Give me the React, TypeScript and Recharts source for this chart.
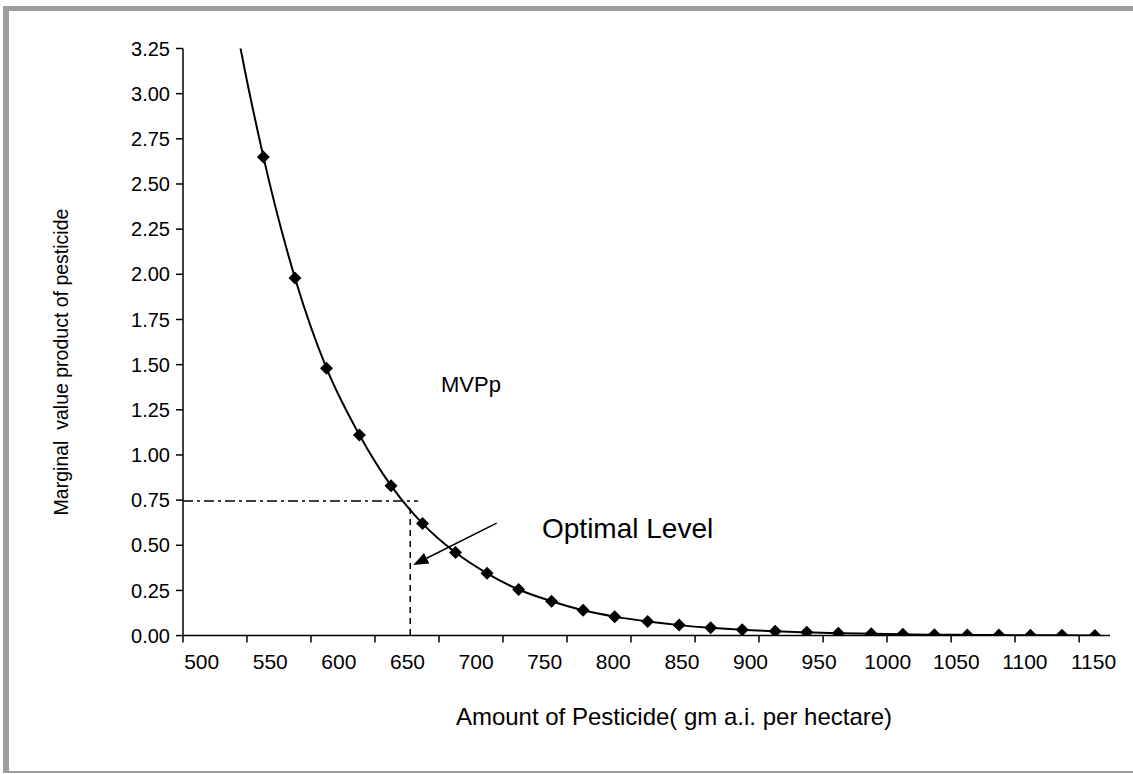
import React from "react"
import { LineChart, Line, XAxis, YAxis, ReferenceLine, Customized } from "recharts"

// pesticide amount (gm a.i. per hectare)
const amounts = [
    498, 521, 545, 568, 591, 615, 638, 661, 685, 708, 731, 755, 778, 801, 825,
    848, 871, 894, 918, 941, 964, 988, 1011, 1034, 1058, 1081, 1104, 1127, 1151,
]

// marginal value product of pesticide (first two run off the top of the chart)
const mvp = [
    4.77, 3.56, 2.65, 1.98, 1.48, 1.11, 0.83, 0.62, 0.46, 0.345, 0.255, 0.19, 0.14,
    0.105, 0.078, 0.058, 0.043, 0.032, 0.024, 0.018, 0.013, 0.01, 0.007, 0.005,
    0.004, 0.003, 0.002, 0.002, 0.001,
]

const xLabels = [500, 550, 600, 650, 700, 750, 800, 850, 900, 950, 1000, 1050, 1100, 1150]
const yTicks = [0, 0.25, 0.5, 0.75, 1, 1.25, 1.5, 1.75, 2, 2.25, 2.5, 2.75, 3, 3.25]
// the axis tick marks sit between the labels, not under them
const tickMarks = [
    486.4, 533.0, 579.7, 626.3, 673.0, 719.6, 766.3, 812.9, 859.6, 906.2, 952.9,
    999.5, 1046.2, 1092.8, 1139.5,
]

const xDomain = [486.4, 1162]
const optimal = { x: 652, y: 0.745, lineEnd: 657.6, dropTop: 0.707 }
const arrow = { from: { x: 715, y: 0.6225 }, to: { x: 654.2, y: 0.391 } }

const data = amounts.map((x, i) => ({ x, mvp: mvp[i] }))
const allXTicks = [...tickMarks, ...xLabels].sort((a, b) => a - b)

const font = "'Liberation Sans', Arial, sans-serif"

function Diamond(props: any) {
    const { cx, cy, payload } = props
    if (cx == null || cy == null || payload.mvp > 3.25) return null
    const r = 6.5
    return (
        <polygon
            key={`d-${payload.x}`}
            points={`${cx},${cy - r} ${cx + r},${cy} ${cx},${cy + r} ${cx - r},${cy}`}
            fill="#000"
        />
    )
}

// a tick is either a bare mark or a bare label
function XTick(props: any) {
    const { x, y, payload } = props
    const v = payload.value
    if (tickMarks.includes(v)) {
        return <line x1={x} y1={y} x2={x} y2={y + 7} stroke="#000" strokeWidth={1.5} />
    }
    return (
        <text x={x} y={y + 33} textAnchor="middle" fontSize={21} fontFamily={font} fill="#000">
            {v}
        </text>
    )
}

function ArrowShape(props: any) {
    const { x1, y1, x2, y2 } = props
    if (x1 == null) return null
    const ang = Math.atan2(y2 - y1, x2 - x1)
    const len = 15
    const w = 6
    const bx = x2 - len * Math.cos(ang)
    const by = y2 - len * Math.sin(ang)
    const px = -Math.sin(ang) * w
    const py = Math.cos(ang) * w
    return (
        <g>
            <line x1={x1} y1={y1} x2={bx} y2={by} stroke="#000" strokeWidth={1.5} />
            <polygon points={`${x2},${y2} ${bx + px},${by + py} ${bx - px},${by - py}`} fill="#000" />
        </g>
    )
}

function Annotations() {
    return (
        <g fontFamily={font} fill="#000">
            <text x={471} y={392} fontSize={22} textAnchor="middle">MVPp</text>
            <text x={542} y={538} fontSize={28}>Optimal Level</text>
            <text x={674} y={725} fontSize={24} textAnchor="middle">
                Amount of Pesticide( gm a.i. per hectare)
            </text>
            <text
                x={0}
                y={0}
                fontSize={19.5}
                textAnchor="middle"
                style={{ whiteSpace: "pre" }}
                transform="translate(68,362) rotate(-90)"
            >
                {"Marginal  value product of pesticide"}
            </text>
        </g>
    )
}

export default function App() {
    return (
        <div style={{ position: "absolute", left: 0, top: 0, width: 1133, height: 774, background: "#fff" }}>
            <div
                style={{
                    position: "absolute",
                    left: 3,
                    top: 6,
                    right: 0,
                    bottom: 1,
                    borderTop: "5px solid #9c9ea1",
                    borderLeft: "6px solid #9c9ea1",
                    borderBottom: "2px solid #9c9ea1",
                }}
            />
            <div style={{ position: "absolute", left: 0, top: 0 }}>
                <LineChart
                    width={1133}
                    height={774}
                    data={data}
                    margin={{ top: 48.5, right: 23, left: 83, bottom: 38.4 }}
                >
                    <XAxis
                        type="number"
                        dataKey="x"
                        domain={xDomain}
                        ticks={allXTicks}
                        interval={0}
                        height={100}
                        allowDataOverflow
                        tickSize={0}
                        tickMargin={0}
                        tickLine={false}
                        tick={XTick}
                        axisLine={{ stroke: "#000", strokeWidth: 1.5 }}
                    />
                    <YAxis
                        type="number"
                        domain={[0, 3.25]}
                        ticks={yTicks}
                        width={100}
                        allowDataOverflow
                        tickSize={7}
                        tickMargin={6}
                        tickFormatter={(v) => v.toFixed(2)}
                        tick={{ fontSize: 20, fill: "#000", fontFamily: font }}
                        axisLine={{ stroke: "#000", strokeWidth: 1.5 }}
                        tickLine={{ stroke: "#000", strokeWidth: 1.5 }}
                    />
                    <ReferenceLine
                        segment={[
                            { x: xDomain[0], y: optimal.y },
                            { x: optimal.lineEnd, y: optimal.y },
                        ]}
                        stroke="#000"
                        strokeWidth={1.5}
                        strokeDasharray="10 4 3 4"
                    />
                    <ReferenceLine
                        segment={[
                            { x: optimal.x, y: optimal.dropTop },
                            { x: optimal.x, y: 0 },
                        ]}
                        stroke="#000"
                        strokeWidth={1.5}
                        strokeDasharray="6 5"
                    />
                    <ReferenceLine segment={[arrow.from, arrow.to]} shape={ArrowShape} />
                    <Line
                        type="monotone"
                        dataKey="mvp"
                        stroke="#000"
                        strokeWidth={2}
                        dot={Diamond}
                        activeDot={false}
                        isAnimationActive={false}
                    />
                    <Customized component={Annotations} />
                </LineChart>
            </div>
        </div>
    )
}
